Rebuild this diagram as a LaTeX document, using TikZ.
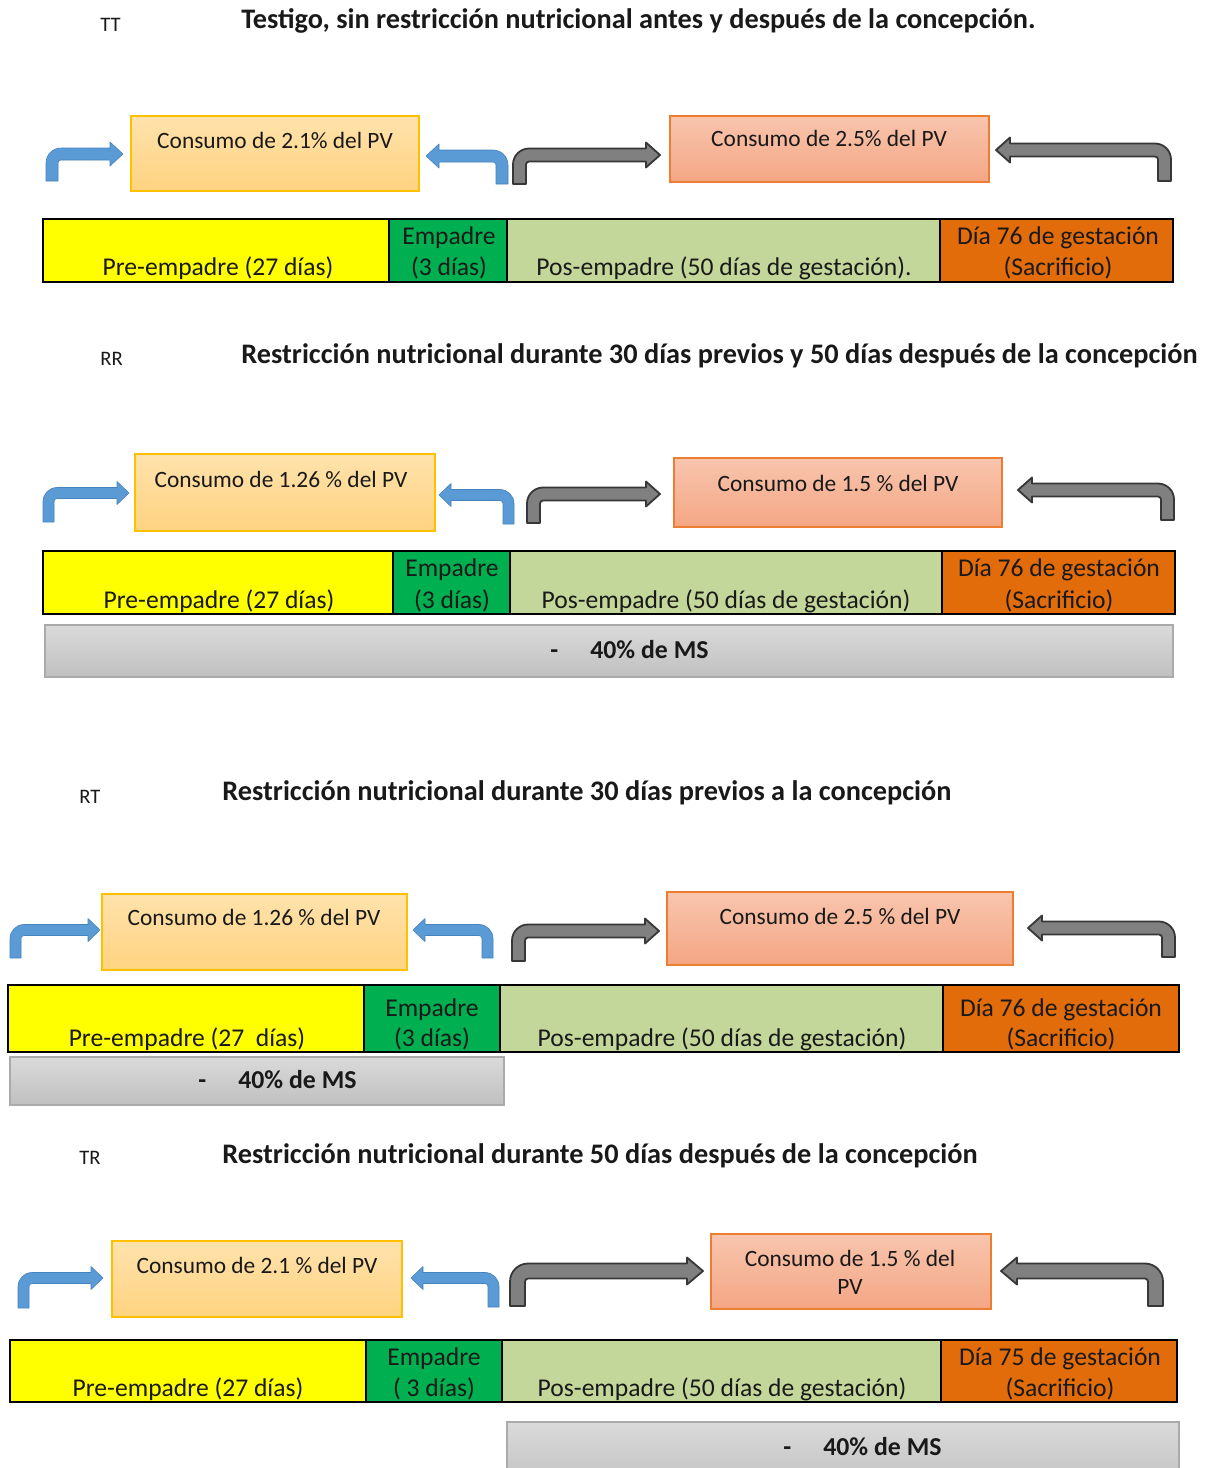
\documentclass[tikz,border=0pt]{standalone}
\usepackage{fontspec}
\setmainfont{Carlito}
\usetikzlibrary{fit}
\definecolor{txtc}{RGB}{25,25,25}
\definecolor{barY}{RGB}{255,255,0}
\definecolor{barG}{RGB}{0,176,80}
\definecolor{barL}{RGB}{196,215,155}
\definecolor{barO}{RGB}{226,107,10}
\definecolor{cTop}{RGB}{255,226,172}
\definecolor{cBot}{RGB}{255,211,128}
\definecolor{cBrd}{RGB}{255,192,0}
\definecolor{sTop}{RGB}{248,197,174}
\definecolor{sBot}{RGB}{244,166,132}
\definecolor{sBrd}{RGB}{237,125,49}
\definecolor{gTop}{RGB}{218,218,218}
\definecolor{gBot}{RGB}{192,192,192}
\definecolor{gBrd}{RGB}{170,170,170}
\definecolor{arB}{RGB}{91,155,213}
\definecolor{arBd}{RGB}{70,130,190}
\definecolor{arG}{RGB}{128,128,128}
\definecolor{arGd}{RGB}{55,55,55}

% bent arrow, stem on the left, pointing right
% #1 stem left x, #2 bottom y, #3 shaft centre y, #4 tip x, #5 thickness, #6 style
\newcommand{\bentR}[6]{%
 \pgfmathsetmacro{\aT}{#3-#5/2}%
 \pgfmathsetmacro{\aB}{#3+#5/2}%
 \pgfmathsetmacro{\aHt}{#3-#5/2-6}%
 \pgfmathsetmacro{\aHb}{#3+#5/2+6}%
 \pgfmathsetmacro{\aHx}{#4-#5-1}%
 \pgfmathsetmacro{\aR}{#5+3}%
 \pgfmathsetmacro{\aS}{#1+#5}%
 \path[#6] (#1,#2) -- (#1,\aT+\aR)
   .. controls (#1,\aT+0.45*\aR) and (#1+0.45*\aR,\aT) .. (#1+\aR,\aT)
   -- (\aHx,\aT) -- (\aHx,\aHt) -- (#4,#3) -- (\aHx,\aHb) -- (\aHx,\aB)
   -- (\aS+3,\aB) .. controls (\aS+1.35,\aB) and (\aS,\aB+1.35) .. (\aS,\aB+3)
   -- (\aS,#2) -- cycle;}
% bent arrow, stem on the right, pointing left; #1 stem right x
\newcommand{\bentL}[6]{%
 \pgfmathsetmacro{\aT}{#3-#5/2}%
 \pgfmathsetmacro{\aB}{#3+#5/2}%
 \pgfmathsetmacro{\aHt}{#3-#5/2-6}%
 \pgfmathsetmacro{\aHb}{#3+#5/2+6}%
 \pgfmathsetmacro{\aHx}{#4+#5+1}%
 \pgfmathsetmacro{\aR}{#5+3}%
 \pgfmathsetmacro{\aS}{#1-#5}%
 \path[#6] (#1,#2) -- (#1,\aT+\aR)
   .. controls (#1,\aT+0.45*\aR) and (#1-0.45*\aR,\aT) .. (#1-\aR,\aT)
   -- (\aHx,\aT) -- (\aHx,\aHt) -- (#4,#3) -- (\aHx,\aHb) -- (\aHx,\aB)
   -- (\aS-3,\aB) .. controls (\aS-1.35,\aB) and (\aS,\aB+1.35) .. (\aS,\aB+3)
   -- (\aS,#2) -- cycle;}

\tikzset{
  txt/.style={font=\fontsize{12.8}{15.5}\selectfont, text=txtc, inner sep=0, anchor=base},
  ctxt/.style={font=\fontsize{11.7}{14}\selectfont, text=txtc, inner sep=0, anchor=base},
  ttl/.style={font=\fontsize{14.15}{17}\selectfont\bfseries, text=txtc, inner sep=0, anchor=base west},
  lbl/.style={font=\fontsize{10.3}{12}\selectfont, text=txtc, inner sep=0, anchor=base west},
  ms/.style={font=\fontsize{12.9}{15.5}\selectfont\bfseries, text=txtc, inner sep=0, anchor=base west},
  seg/.style={draw=black, line width=1pt, inner sep=0, outer sep=0},
  segY/.style={seg, fill=barY},
  segG/.style={seg, fill=barG},
  segL/.style={seg, fill=barL},
  segO/.style={seg, fill=barO},
  cbox/.style={draw=cBrd, line width=0.9pt, top color=cTop, bottom color=cBot, inner sep=0},
  sbox/.style={draw=sBrd, line width=0.9pt, top color=sTop, bottom color=sBot, inner sep=0},
  gbar/.style={draw=gBrd, line width=0.9pt, top color=gTop, bottom color=gBot, inner sep=0},
  blueA/.style={fill=arB, draw=arBd, line width=0.3pt, line join=round},
  grayA/.style={fill=arG, draw=arGd, line width=0.9pt, line join=round},
}

\begin{document}
\begin{tikzpicture}[x=0.5pt, y=-0.5pt]
\clip (0,0) rectangle (1207,1468);
\fill[white] (0,0) rectangle (1207,1468);

%% ---------------- TT ----------------
\node[lbl] (lTT) at (100,31) {TT};
\node[ttl] (tTT) at (241,28) {Testigo, sin restricción nutricional antes y después de la concepción.};
\bentR{46}{181}{154}{123}{12}{blueA}
\node[cbox, fit={(131,116) (419,191)}] (cTT1) {};
\node[ctxt] (cTT1t) at (275,148) {Consumo de 2.1\% del PV};
\bentL{508}{184}{156}{426}{12}{blueA}
\bentR{513}{184}{155}{660}{13}{grayA}
\node[sbox, fit={(670,116) (989,182)}] (cTT2) {};
\node[ctxt] (cTT2t) at (829,146) {Consumo de 2.5\% del PV};
\bentL{1171}{181}{150}{996}{13}{grayA}
\node[segY, fit={(43,219) (389,282)}] (pTT) {};
\node[segG, fit={(389,219) (507,282)}] (eTT) {};
\node[segL, fit={(507,219) (940,282)}] (gTT) {};
\node[segO, fit={(940,219) (1173,282)}] (sTT) {};
\node[txt] (pTTt) at (218,275) {Pre-empadre (27 días)};
\node[txt] (eTTa) at (449,244) {Empadre};
\node[txt] (eTTb) at (449,275) {(3 días)};
\node[txt] (gTTt) at (724,275) {Pos-empadre (50 días de gestación).};
\node[txt] (sTTa) at (1058,244) {Día 76 de gestación};
\node[txt] (sTTb) at (1058,275) {(Sacrificio)};

%% ---------------- RR ----------------
\node[lbl] (lRR) at (100,365) {RR};
\node[ttl] (tRR) at (241,363) {Restricción nutricional durante 30 días previos y 50 días después de la concepción};
\bentR{43}{522}{493}{129}{11}{blueA}
\node[cbox, fit={(135,454) (435,531)}] (cRR1) {};
\node[ctxt] (cRR1t) at (281,487) {Consumo de 1.26 \% del PV};
\bentL{514}{524}{495}{439}{11}{blueA}
\bentR{527}{523}{494}{660}{13}{grayA}
\node[sbox, fit={(674,458) (1002,527)}] (cRR2) {};
\node[ctxt] (cRR2t) at (838,491) {Consumo de 1.5 \% del PV};
\bentL{1174}{520}{490}{1018}{13}{grayA}
\node[segY, fit={(43,551) (393,614)}] (pRR) {};
\node[segG, fit={(393,551) (510,614)}] (eRR) {};
\node[segL, fit={(510,551) (942,614)}] (gRR) {};
\node[segO, fit={(942,551) (1175,614)}] (sRR) {};
\node[txt] (pRRt) at (219,608) {Pre-empadre (27 días)};
\node[txt] (eRRa) at (452,576) {Empadre};
\node[txt] (eRRb) at (452,608) {(3 días)};
\node[txt] (gRRt) at (726,608) {Pos-empadre (50 días de gestación)};
\node[txt] (sRRa) at (1059,576) {Día 76 de gestación};
\node[txt] (sRRb) at (1059,608) {(Sacrificio)};
\node[gbar, fit={(45,625) (1173,677)}] (mRR) {};
\node[ms] (mRRt) at (550,658) {-\hspace{16pt}40\% de MS};

%% ---------------- RT ----------------
\node[lbl] (lRT) at (79,803) {RT};
\node[ttl] (tRT) at (222,800) {Restricción nutricional durante 30 días previos a la concepción};
\bentR{10}{958}{930}{100}{11}{blueA}
\node[cbox, fit={(102,894) (407,970)}] (cRT1) {};
\node[ctxt] (cRT1t) at (254,925) {Consumo de 1.26 \% del PV};
\bentL{493}{958}{930}{413}{11}{blueA}
\bentR{512}{961}{931}{659}{13}{grayA}
\node[sbox, fit={(667,892) (1013,965)}] (cRT2) {};
\node[ctxt] (cRT2t) at (840,924) {Consumo de 2.5 \% del PV};
\bentL{1175}{957}{928}{1028}{13}{grayA}
\node[segY, fit={(8,985) (364,1052)}] (pRT) {};
\node[segG, fit={(364,985) (500,1052)}] (eRT) {};
\node[segL, fit={(500,985) (943,1052)}] (gRT) {};
\node[segO, fit={(943,985) (1179,1052)}] (sRT) {};
\node[txt] (pRTt) at (187,1046) {Pre-empadre (27~\ días)};
\node[txt] (eRTa) at (432,1016) {Empadre};
\node[txt] (eRTb) at (432,1046) {(3 días)};
\node[txt] (gRTt) at (722,1046) {Pos-empadre (50 días de gestación)};
\node[txt] (sRTa) at (1061,1016) {Día 76 de gestación};
\node[txt] (sRTb) at (1061,1046) {(Sacrificio)};
\node[gbar, fit={(10,1057) (504,1105)}] (mRT) {};
\node[ms] (mRTt) at (198,1088) {-\hspace{16pt}40\% de MS};

%% ---------------- TR ----------------
\node[lbl] (lTR) at (79,1164) {TR};
\node[ttl] (tTR) at (222,1163) {Restricción nutricional durante 50 días después de la concepción};
\bentR{18}{1308}{1278}{103}{11}{blueA}
\node[cbox, fit={(112,1241) (402,1317)}] (cTR1) {};
\node[ctxt] (cTR1t) at (257,1273) {Consumo de 2.1 \% del PV};
\bentL{499}{1307}{1278}{411}{11}{blueA}
\bentR{510}{1306}{1271}{703}{15}{grayA}
\node[sbox, fit={(711,1234) (991,1309)}] (cTR2) {};
\node[ctxt] (cTR2a) at (850,1266) {Consumo de 1.5 \% del};
\node[ctxt] (cTR2b) at (850,1294) {PV};
\bentL{1163}{1306}{1271}{1001}{15}{grayA}
\node[segY, fit={(10,1340) (366,1402)}] (pTR) {};
\node[segG, fit={(366,1340) (502,1402)}] (eTR) {};
\node[segL, fit={(502,1340) (941,1402)}] (gTR) {};
\node[segO, fit={(941,1340) (1177,1402)}] (sTR) {};
\node[txt] (pTRt) at (188,1396) {Pre-empadre (27 días)};
\node[txt] (eTRa) at (434,1365) {Empadre};
\node[txt] (eTRb) at (434,1396) {( 3 días)};
\node[txt] (gTRt) at (722,1396) {Pos-empadre (50 días de gestación)};
\node[txt] (sTRa) at (1060,1365) {Día 75 de gestación};
\node[txt] (sTRb) at (1060,1396) {(Sacrificio)};
\node[gbar, fit={(507,1422) (1179,1490)}] (mTR) {};
\node[ms] (mTRt) at (783,1455) {-\hspace{16pt}40\% de MS};
\end{tikzpicture}
\end{document}
